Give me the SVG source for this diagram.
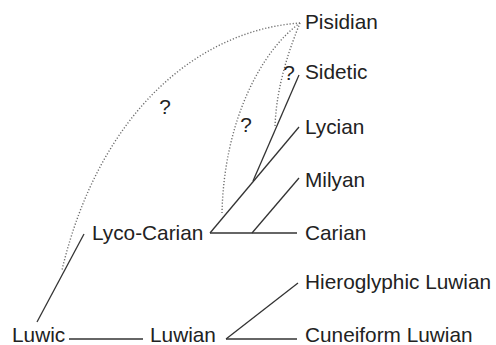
<svg xmlns="http://www.w3.org/2000/svg" width="496" height="345" viewBox="0 0 496 345">
<style>
text{font-family:"Liberation Sans",Arial,sans-serif;font-size:20.8px;fill:#222}
.e{stroke:#333;stroke-width:1.3;fill:none}
.d{stroke:#6e6e6e;stroke-width:1.4;fill:none;stroke-dasharray:1.2 1.9}
</style>
<rect width="496" height="345" fill="#fff"/>
<g id="connectors">
<line class="e" x1="69" y1="339" x2="143" y2="339"/>
<line class="e" x1="226" y1="339" x2="297" y2="339"/>
<line class="e" x1="226" y1="339" x2="298" y2="283"/>
<line class="e" x1="37" y1="322" x2="84" y2="234"/>
<line class="e" x1="210" y1="233" x2="297" y2="233"/>
<line class="e" x1="252" y1="233" x2="299" y2="178"/>
<line class="e" x1="210" y1="233" x2="299" y2="127"/>
<line class="e" x1="253" y1="181" x2="299" y2="75"/>
<path class="d" d="M300,23 C200,30 100,110 62,270"/>
<path class="d" d="M300,23 C262,50 224,120 222,213"/>
<path class="d" d="M300,23 C291,45 276,85 275,128"/>
<text x="165" y="114" text-anchor="middle">?</text>
<text x="246" y="132" text-anchor="middle">?</text>
<text x="289" y="80" text-anchor="middle">?</text>
</g>
<g id="n-pisidian"><text x="305" y="29">Pisidian</text></g>
<g id="n-sidetic"><text x="305" y="79">Sidetic</text></g>
<g id="n-lycian"><text x="305" y="134">Lycian</text></g>
<g id="n-milyan"><text x="305" y="187">Milyan</text></g>
<g id="n-carian"><text x="305" y="240">Carian</text></g>
<g id="n-lycocarian"><text x="92" y="240">Lyco-Carian</text></g>
<g id="n-hieroglyphic"><text x="305" y="289">Hieroglyphic Luwian</text></g>
<g id="n-cuneiform"><text x="305" y="342">Cuneiform Luwian</text></g>
<g id="n-luwic"><text x="12" y="342">Luwic</text></g>
<g id="n-luwian"><text x="150" y="342">Luwian</text></g>
</svg>
